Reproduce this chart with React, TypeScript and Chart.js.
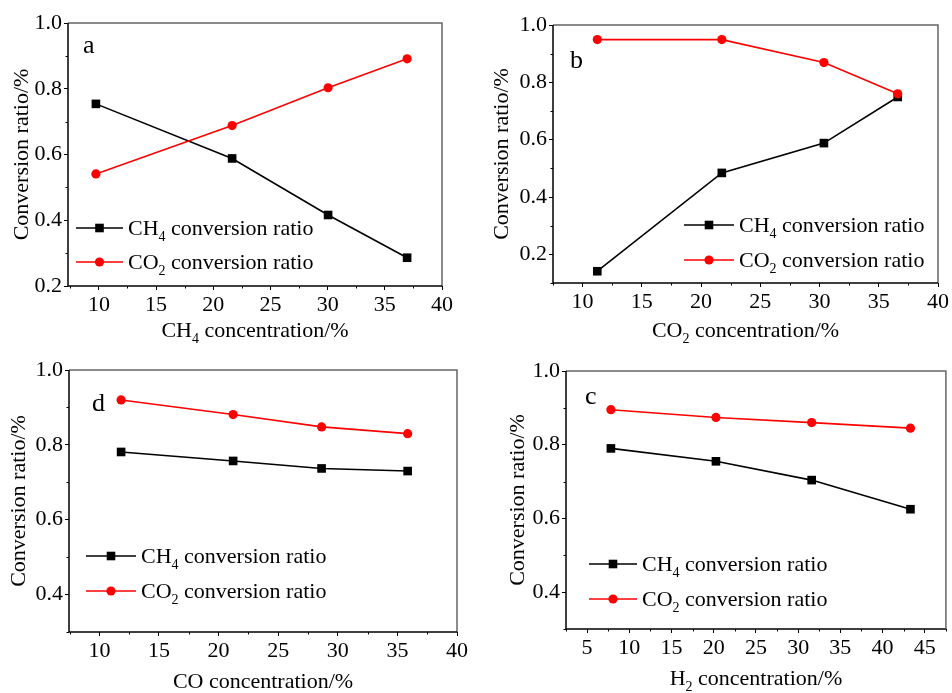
import React, { useEffect, useRef } from "react";
import { Chart, registerables } from "chart.js";

Chart.register(...registerables);

// ---------- data ----------
const aX = [9.74, 21.65, 30.04, 36.95];
const aCH4 = [0.754, 0.588, 0.416, 0.286];
const aCO2 = [0.541, 0.688, 0.803, 0.891];

const bX = [11.24, 21.75, 30.37, 36.6];
const bCH4 = [0.141, 0.484, 0.588, 0.749];
const bCO2 = [0.949, 0.949, 0.869, 0.76];

const dX = [11.82, 21.22, 28.64, 35.86];
const dCH4 = [0.781, 0.757, 0.737, 0.73];
const dCO2 = [0.92, 0.881, 0.848, 0.83];

const cX = [7.82, 20.26, 31.6, 43.3];
const cCH4 = [0.79, 0.755, 0.704, 0.625];
const cCO2 = [0.895, 0.874, 0.86, 0.845];

const xTicks40 = [10, 15, 20, 25, 30, 35, 40];
const xTicks45 = [5, 10, 15, 20, 25, 30, 35, 40, 45];
const yTicks02 = [0.2, 0.4, 0.6, 0.8, 1.0];
const yTicks04 = [0.4, 0.6, 0.8, 1.0];

const seriesCH4 = [{ t: "CH" }, { t: "4", sub: true }, { t: " conversion ratio" }];
const seriesCO2 = [{ t: "CO" }, { t: "2", sub: true }, { t: " conversion ratio" }];
const yTitle = [{ t: "Conversion ratio/%" }];

const FONT = "'Liberation Serif', 'Times New Roman', serif";

type Seg = { t: string; sub?: boolean };

function segWidth(ctx: CanvasRenderingContext2D, segs: Seg[], size: number) {
  let w = 0;
  for (const s of segs) {
    ctx.font = `${s.sub ? Math.round(size * 0.62) : size}px ${FONT}`;
    w += ctx.measureText(s.t).width;
  }
  return w;
}

function drawRich(
  ctx: CanvasRenderingContext2D,
  segs: Seg[],
  x: number,
  y: number,
  size: number,
  align: "left" | "center"
) {
  const w = segWidth(ctx, segs, size);
  let cx = align === "center" ? x - w / 2 : x;
  ctx.textAlign = "left";
  ctx.textBaseline = "alphabetic";
  ctx.fillStyle = "#000";
  const base = y + size * 0.33;
  for (const s of segs) {
    const fs = s.sub ? Math.round(size * 0.62) : size;
    ctx.font = `${fs}px ${FONT}`;
    ctx.fillText(s.t, cx, s.sub ? base + size * 0.26 : base);
    cx += ctx.measureText(s.t).width;
  }
}

const decoPlugin = {
  id: "deco",
  afterDraw(chart: any, _args: any, o: any) {
    const ctx: CanvasRenderingContext2D = chart.ctx;
    const { left, right, top, bottom } = chart.chartArea;
    const xs = chart.scales.x;
    const ys = chart.scales.y;
    ctx.save();
    // frame
    ctx.lineWidth = 1.5;
    ctx.strokeStyle = "#666";
    ctx.beginPath();
    ctx.moveTo(left, top);
    ctx.lineTo(right, top);
    ctx.lineTo(right, bottom);
    ctx.stroke();
    ctx.strokeStyle = "#000";
    ctx.beginPath();
    ctx.moveTo(left, top);
    ctx.lineTo(left, bottom);
    ctx.lineTo(right, bottom);
    ctx.stroke();
    // minor ticks
    ctx.lineWidth = 1;
    ctx.beginPath();
    for (let v = Math.ceil(xs.min / 2.5) * 2.5; v <= xs.max + 1e-9; v += 2.5) {
      if (Math.abs((v / 5) - Math.round(v / 5)) < 1e-6) continue;
      const px = Math.round(xs.getPixelForValue(v)) + 0.5;
      ctx.moveTo(px, bottom);
      ctx.lineTo(px, bottom + 2.5);
    }
    for (let k = Math.ceil(ys.min * 10 - 1e-6); k <= Math.floor(ys.max * 10 + 1e-6); k++) {
      if (k % 2 === 0) continue;
      const py = Math.round(ys.getPixelForValue(k / 10)) + 0.5;
      ctx.moveTo(left, py);
      ctx.lineTo(left - 2.5, py);
    }
    ctx.stroke();
    // axis titles
    drawRich(ctx, o.xTitle, (left + right) / 2, o.xTitleY, 22, "center");
    ctx.save();
    ctx.translate(o.yTitleX, (top + bottom) / 2);
    ctx.rotate(-Math.PI / 2);
    drawRich(ctx, yTitle, 0, 0, 22, "center");
    ctx.restore();
    // panel letter
    ctx.font = `26px ${FONT}`;
    ctx.fillStyle = "#000";
    ctx.textAlign = "left";
    ctx.textBaseline = "alphabetic";
    ctx.fillText(o.letter, o.letterX, o.letterY);
    // legend
    const items = [
      { segs: seriesCH4, color: "#000", shape: "rect", y: o.legY[0] },
      { segs: seriesCO2, color: "#ff0000", shape: "circle", y: o.legY[1] },
    ];
    for (const it of items) {
      ctx.strokeStyle = it.color;
      ctx.fillStyle = it.color;
      ctx.lineWidth = 1.6;
      ctx.beginPath();
      ctx.moveTo(o.legX1, it.y);
      ctx.lineTo(o.legX2, it.y);
      ctx.stroke();
      const mx = (o.legX1 + o.legX2) / 2;
      ctx.beginPath();
      if (it.shape === "rect") ctx.rect(mx - 4.3, it.y - 4.3, 8.6, 8.6);
      else ctx.arc(mx, it.y, 4.6, 0, Math.PI * 2);
      ctx.fill();
      drawRich(ctx, it.segs, o.legX2 + 5, it.y, 22, "left");
    }
    ctx.restore();
  },
};

type Panel = {
  left: number;
  top: number;
  w: number;
  h: number;
  plot: { l: number; r: number; t: number; b: number };
  xs: number[];
  ch4: number[];
  co2: number[];
  xMin: number;
  xMax: number;
  yMin: number;
  yMax: number;
  xTicks: number[];
  yTicks: number[];
  deco: any;
};

const PANELS: Panel[] = [
  {
    left: 0, top: 0, w: 476, h: 346,
    plot: { l: 68, r: 442, t: 23, b: 286 },
    xs: aX, ch4: aCH4, co2: aCO2,
    xMin: 7.3, xMax: 40, yMin: 0.2, yMax: 1.0,
    xTicks: xTicks40, yTicks: yTicks02,
    deco: {
      xTitle: [{ t: "CH" }, { t: "4", sub: true }, { t: " concentration/%" }],
      xTitleY: 330, yTitleX: 21, letter: "a", letterX: 83, letterY: 53,
      legX1: 76, legX2: 123, legY: [228, 262],
    },
  },
  {
    left: 476, top: 0, w: 476, h: 346,
    plot: { l: 77, r: 462, t: 25, b: 283 },
    xs: bX, ch4: bCH4, co2: bCO2,
    xMin: 7.5, xMax: 40, yMin: 0.1, yMax: 1.0,
    xTicks: xTicks40, yTicks: yTicks02,
    deco: {
      xTitle: [{ t: "CO" }, { t: "2", sub: true }, { t: " concentration/%" }],
      xTitleY: 330, yTitleX: 25, letter: "b", letterX: 94, letterY: 68,
      legX1: 208, legX2: 258, legY: [225, 260],
    },
  },
  {
    left: 0, top: 346, w: 476, h: 347,
    plot: { l: 69, r: 457, t: 24, b: 286 },
    xs: dX, ch4: dCH4, co2: dCO2,
    xMin: 7.45, xMax: 40, yMin: 0.3, yMax: 1.0,
    xTicks: xTicks40, yTicks: yTicks04,
    deco: {
      xTitle: [{ t: "CO concentration/%" }],
      xTitleY: 335, yTitleX: 18, letter: "d", letterX: 92, letterY: 65,
      legX1: 86, legX2: 136, legY: [210, 245],
    },
  },
  {
    left: 476, top: 346, w: 476, h: 347,
    plot: { l: 90, r: 473, t: 25, b: 283 },
    xs: cX, ch4: cCH4, co2: cCO2,
    xMin: 2.5, xMax: 47.5, yMin: 0.3, yMax: 1.0,
    xTicks: xTicks45, yTicks: yTicks04,
    deco: {
      xTitle: [{ t: "H" }, { t: "2", sub: true }, { t: " concentration/%" }],
      xTitleY: 332, yTitleX: 41, letter: "c", letterX: 109, letterY: 58,
      legX1: 113, legX2: 161, legY: [218, 253],
    },
  },
];

function buildConfig(p: Panel): any {
  const pts = (ys: number[]) => p.xs.map((x, i) => ({ x, y: ys[i] }));
  return {
    type: "line",
    data: {
      datasets: [
        {
          label: "CH4 conversion ratio",
          data: pts(p.ch4),
          borderColor: "#000",
          backgroundColor: "#000",
          borderWidth: 1.6,
          pointStyle: "rect",
          pointRadius: 6.1,
          pointBorderWidth: 0,
          order: 1,
        },
        {
          label: "CO2 conversion ratio",
          data: pts(p.co2),
          borderColor: "#ff0000",
          backgroundColor: "#ff0000",
          borderWidth: 1.6,
          pointStyle: "circle",
          pointRadius: 4.6,
          pointBorderWidth: 0,
          order: 0,
        },
      ],
    },
    options: {
      responsive: false,
      animation: false,
      events: [],
      layout: {
        padding: { top: p.plot.t, right: p.w - p.plot.r, left: 0, bottom: 0 },
      },
      plugins: {
        legend: { display: false },
        tooltip: { enabled: false },
        deco: p.deco,
      },
      scales: {
        x: {
          type: "linear",
          min: p.xMin,
          max: p.xMax,
          afterBuildTicks: (s: any) => {
            s.ticks = p.xTicks.map((v) => ({ value: v }));
          },
          afterFit: (s: any) => {
            s.height = p.h - p.plot.b;
          },
          border: { display: false },
          grid: { drawOnChartArea: false, drawTicks: true, tickLength: 4, color: "#000", lineWidth: 1 },
          ticks: {
            font: { family: FONT, size: 22 },
            color: "#000",
            padding: 2,
            maxRotation: 0,
            autoSkip: false,
            callback: (v: number) => String(v),
          },
        },
        y: {
          type: "linear",
          min: p.yMin,
          max: p.yMax,
          afterBuildTicks: (s: any) => {
            s.ticks = p.yTicks.map((v) => ({ value: v }));
          },
          afterFit: (s: any) => {
            s.width = p.plot.l;
          },
          border: { display: false },
          grid: { drawOnChartArea: false, drawTicks: true, tickLength: 4, color: "#000", lineWidth: 1 },
          ticks: {
            font: { family: FONT, size: 22 },
            color: "#000",
            padding: 2,
            autoSkip: false,
            callback: (v: number) => v.toFixed(1),
          },
        },
      },
    },
    plugins: [decoPlugin],
  };
}

export default function App() {
  const refs = useRef<(HTMLCanvasElement | null)[]>([]);
  useEffect(() => {
    const charts = PANELS.map((p, i) => new Chart(refs.current[i] as HTMLCanvasElement, buildConfig(p)));
    return () => charts.forEach((c) => c.destroy());
  }, []);
  return (
    <div style={{ position: "absolute", left: 0, top: 0, width: 952, height: 693, background: "#fff" }}>
      {PANELS.map((p, i) => (
        <canvas
          key={i}
          ref={(el) => {
            refs.current[i] = el;
          }}
          width={p.w}
          height={p.h}
          style={{ position: "absolute", left: p.left, top: p.top, width: p.w, height: p.h }}
        />
      ))}
    </div>
  );
}
